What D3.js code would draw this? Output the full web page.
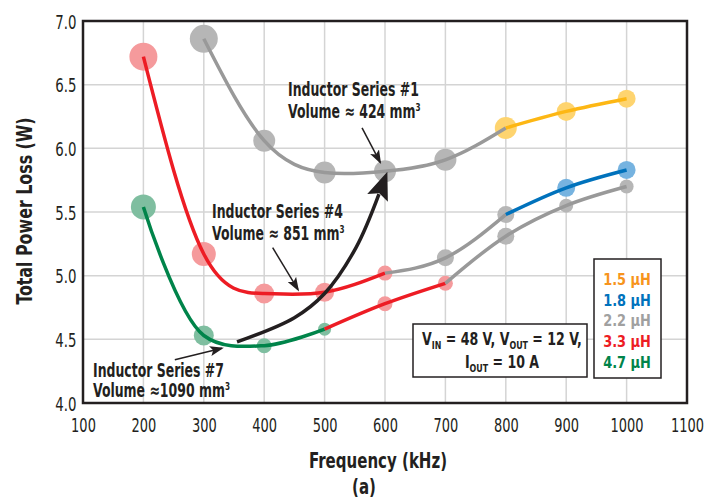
<!DOCTYPE html>
<html>
<head>
<meta charset="utf-8">
<script src="https://cdn.jsdelivr.net/npm/d3@7"></script>
<style>
  body { margin: 0; background: #fff; }
  text { font-family: "DejaVu Sans Condensed", "DejaVu Sans", sans-serif; fill: #231f20; }
  .bold { font-weight: bold; }
</style>
</head>
<body>
<svg id="svg-chart"></svg>
<script>
const width = 704;
const height = 502;
const margin = { left: 83, right: 17, top: 21, bottom: 99 };

// data
const xTicks = [100, 200, 300, 400, 500, 600, 700, 800, 900, 1000, 1100];
const yTicks = [4.0, 4.5, 5.0, 5.5, 6.0, 6.5, 7.0];
const inductances = ["1.5 µH", "1.8 µH", "2.2 µH", "3.3 µH", "4.7 µH"];

// Inductor Series #1
const s1Freq = [300, 400, 500, 600, 700, 800, 900, 1000];
const s1Loss = [6.86, 6.06, 5.81, 5.82, 5.91, 6.16, 6.29, 6.39];
const s1Ind = ["2.2 µH", "2.2 µH", "2.2 µH", "2.2 µH", "2.2 µH", "1.5 µH", "1.5 µH", "1.5 µH"];
const s1Size = [14, 11, 11, 11, 11, 11, 9.5, 9];
const s1Segs = [["2.2 µH", 300, 800], ["1.5 µH", 800, 1000]];

// Inductor Series #4
const s4Freq = [200, 300, 400, 500, 600, 700, 800, 900, 1000];
const s4Loss = [6.72, 5.17, 4.86, 4.87, 5.02, 5.14, 5.48, 5.69, 5.83];
const s4Ind = ["3.3 µH", "3.3 µH", "3.3 µH", "3.3 µH", "3.3 µH", "2.2 µH", "2.2 µH", "1.8 µH", "1.8 µH"];
const s4Size = [14, 12, 10, 9.5, 7.5, 8.5, 8.5, 9, 9];
const s4Segs = [["3.3 µH", 200, 600], ["2.2 µH", 600, 800], ["1.8 µH", 800, 1000]];

// Inductor Series #7
const s7Freq = [200, 300, 400, 500, 600, 700, 800, 900, 1000];
const s7Loss = [5.54, 4.53, 4.45, 4.58, 4.78, 4.94, 5.31, 5.55, 5.70];
const s7Ind = ["4.7 µH", "4.7 µH", "4.7 µH", "4.7 µH", "3.3 µH", "3.3 µH", "2.2 µH", "2.2 µH", "2.2 µH"];
const s7Size = [12.5, 10, 7.5, 6.5, 7.5, 7.5, 8.5, 7, 7];
const s7Segs = [["4.7 µH", 200, 500], ["3.3 µH", 500, 700], ["2.2 µH", 700, 1000]];

// annotations (frequency, loss)
const bigArrow = [[355, 4.48], [450, 4.67], [500, 4.86], [552, 5.22], [590, 5.64]];
const arrow1 = [[562, 6.16], [592, 5.89]];
const arrow4 = [[414, 5.22], [456, 4.89]];
const arrow7 = [[252, 4.34], [330, 4.43]];

const lineColor = {
  "1.5 µH": "#fdb714",
  "1.8 µH": "#0072bc",
  "2.2 µH": "#999999",
  "3.3 µH": "#ed1c24",
  "4.7 µH": "#00844a",
};
const dotColor = {
  "1.5 µH": "#fed46f",
  "1.8 µH": "#76b3e0",
  "2.2 µH": "#b6b6b6",
  "3.3 µH": "#f59a9c",
  "4.7 µH": "#7fbea0",
};
const legendColor = {
  "1.5 µH": "#f7941d",
  "1.8 µH": "#0072bc",
  "2.2 µH": "#a0a0a0",
  "3.3 µH": "#ed1c24",
  "4.7 µH": "#00844a",
};

const svg = d3.select("#svg-chart").attr("width", width).attr("height", height);

const xScale = d3.scaleLinear().domain([100, 1100]).range([margin.left, width - margin.right]);
const yScale = d3.scaleLinear().domain([4, 7]).range([height - margin.bottom, margin.top]);

// grid
svg.append("g")
  .selectAll("line")
  .data(xTicks.slice(1, -1))
  .join("line")
  .attr("x1", d => xScale(d)).attr("x2", d => xScale(d))
  .attr("y1", yScale(4)).attr("y2", yScale(7))
  .attr("stroke", "#d4d4d4").attr("stroke-width", 1.5);
svg.append("g")
  .selectAll("line")
  .data(yTicks.slice(1, -1))
  .join("line")
  .attr("x1", xScale(100)).attr("x2", xScale(1100))
  .attr("y1", d => yScale(d)).attr("y2", d => yScale(d))
  .attr("stroke", "#d4d4d4").attr("stroke-width", 1.5);

// axes (labels only), glyphs narrowed to look like a condensed face
const axisBottom = d3.axisBottom(xScale).tickValues(xTicks).tickFormat(d3.format("d")).tickSize(0).tickPadding(0);
svg.append("g")
  .attr("transform", "translate(0," + (height - margin.bottom) + ")")
  .call(axisBottom)
  .call(g => g.select(".domain").remove())
  .selectAll("text")
  .attr("y", 29).attr("dy", 0)
  .attr("transform", "scale(0.76,1)")
  .style("font-size", "19px");

const axisLeft = d3.axisLeft(yScale).tickValues(yTicks).tickFormat(d3.format(".1f")).tickSize(0).tickPadding(8.5);
svg.append("g")
  .attr("transform", "translate(" + margin.left + ",0)")
  .call(axisLeft)
  .call(g => g.select(".domain").remove())
  .selectAll("text")
  .attr("dy", "0.37em")
  .attr("transform", "scale(0.78,1)")
  .style("font-size", "19px");
svg.selectAll(".tick text").attr("font-family", null).attr("fill", "#231f20");

// dots
function drawSeries(freq, loss, ind, size) {
  const pts = freq.map((f, i) => ({ f: f, v: loss[i], ind: ind[i], r: size[i] }));
  svg.append("g")
    .selectAll("circle")
    .data(pts)
    .join("circle")
    .attr("cx", d => xScale(d.f))
    .attr("cy", d => yScale(d.v))
    .attr("r", d => d.r)
    .attr("fill", d => dotColor[d.ind]);
  return pts;
}

function drawLines(pts, segs, curve) {
  const line = d3.line().x(d => xScale(d.f)).y(d => yScale(d.v)).curve(curve);
  svg.append("g")
    .selectAll("path")
    .data(segs)
    .join("path")
    .attr("d", s => line(pts.filter(p => p.f >= s[1] && p.f <= s[2])))
    .attr("fill", "none")
    .attr("stroke", s => lineColor[s[0]])
    .attr("stroke-width", 3.5);
}

const p1 = drawSeries(s1Freq, s1Loss, s1Ind, s1Size);
const p4 = drawSeries(s4Freq, s4Loss, s4Ind, s4Size);
const p7 = drawSeries(s7Freq, s7Loss, s7Ind, s7Size);
drawLines(p1, s1Segs, d3.curveNatural);
drawLines(p4, s4Segs, d3.curveNatural);
drawLines(p7, s7Segs, d3.curveCatmullRom.alpha(0.5));

// arrow markers
const defs = svg.append("defs");
defs.append("marker")
  .attr("id", "bighead")
  .attr("markerUnits", "userSpaceOnUse")
  .attr("viewBox", "0 0 28 22")
  .attr("refX", 4).attr("refY", 11)
  .attr("markerWidth", 28).attr("markerHeight", 22)
  .attr("orient", "auto")
  .append("path").attr("d", "M0,0 L28,11 L0,22 L5,11 Z").attr("fill", "#231f20");
defs.append("marker")
  .attr("id", "smallhead")
  .attr("markerUnits", "userSpaceOnUse")
  .attr("viewBox", "0 0 14 10")
  .attr("refX", 12).attr("refY", 5)
  .attr("markerWidth", 14).attr("markerHeight", 10)
  .attr("orient", "auto")
  .append("path").attr("d", "M0,0 L14,5 L0,10 L3,5 Z").attr("fill", "#231f20");

const arrowLine = d3.line().x(d => xScale(d[0])).y(d => yScale(d[1])).curve(d3.curveCatmullRom);

svg.append("path")
  .attr("d", arrowLine(bigArrow))
  .attr("fill", "none").attr("stroke", "#231f20").attr("stroke-width", 3.5)
  .attr("marker-end", "url(#bighead)");

[arrow1, arrow4, arrow7].forEach(a => {
  svg.append("path")
    .attr("d", arrowLine(a))
    .attr("fill", "none").attr("stroke", "#231f20").attr("stroke-width", 1.5)
    .attr("marker-end", "url(#smallhead)");
});

// frame
svg.append("rect")
  .attr("x", xScale(100)).attr("y", yScale(7))
  .attr("width", xScale(1100) - xScale(100)).attr("height", yScale(4) - yScale(7))
  .attr("fill", "none").attr("stroke", "#231f20").attr("stroke-width", 2.5);

// text pieces: plain strings, or {sup: ..} / {sub: ..}
function addParts(el, parts) {
  let shift = 0;
  parts.forEach(p => {
    const ts = el.append("tspan");
    if (typeof p === "string") {
      ts.text(p);
      if (shift) ts.attr("dy", -shift);
      shift = 0;
    } else {
      const s = p.sup !== undefined ? -7 : 4;
      ts.attr("dy", s - shift).style("font-size", "11px").text(p.sup !== undefined ? p.sup : p.sub);
      shift = s;
    }
  });
}

// condensed text block: group translated and narrowed
function textBlock(x, y, sx, size, lines, anchor, lineGap) {
  const g = svg.append("g").attr("transform", "translate(" + x + "," + y + ") scale(" + sx + ",1)");
  const t = g.append("text").attr("class", "bold").style("font-size", size + "px")
    .attr("text-anchor", anchor || "start");
  lines.forEach((l, i) => {
    const ts = t.append("tspan").attr("x", 0).attr("y", i * (lineGap || 22));
    addParts(ts, l);
  });
  return t;
}

textBlock(288, 96, 0.73, 19, [["Inductor Series #1"], ["Volume \u2248 424 mm", { sup: "3" }]]);
textBlock(212, 218, 0.73, 19, [["Inductor Series #4"], ["Volume \u2248 851 mm", { sup: "3" }]]);
textBlock(93, 377, 0.73, 19, [["Inductor Series #7"], ["Volume  \u22481090 mm", { sup: "3" }]], "start", 20);

// condition box
svg.append("rect").attr("x", 413).attr("y", 324).attr("width", 174).attr("height", 53)
  .attr("fill", "#fff").attr("stroke", "#231f20").attr("stroke-width", 1.5);
textBlock(502, 345, 0.8, 17.5, [
  ["V", { sub: "IN" }, " = 48 V, V", { sub: "OUT" }, " = 12 V,"],
  ["I", { sub: "OUT" }, " = 10 A"],
], "middle", 23);

// legend
svg.append("rect").attr("x", 594).attr("y", 259).attr("width", 67).attr("height", 119)
  .attr("fill", "#fff").attr("stroke", "#231f20").attr("stroke-width", 1.5);
svg.append("g")
  .selectAll("g")
  .data(inductances)
  .join("g")
  .attr("transform", (d, i) => "translate(627," + (285 + i * 20.7) + ") scale(0.87,1)")
  .append("text")
  .attr("class", "bold")
  .attr("text-anchor", "middle")
  .style("font-size", "16.5px")
  .style("fill", d => legendColor[d])
  .text(d => d);

// axis titles
textBlock(378, 468, 0.815, 20.5, [["Frequency (kHz)"]], "middle");
textBlock(364, 494, 0.815, 20.5, [["(a)"]], "middle");
svg.append("g")
  .attr("transform", "translate(32,211) rotate(-90) scale(0.86,1)")
  .append("text").attr("class", "bold")
  .attr("text-anchor", "middle")
  .style("font-size", "20.5px").text("Total Power Loss (W)");
</script>
</body>
</html>
